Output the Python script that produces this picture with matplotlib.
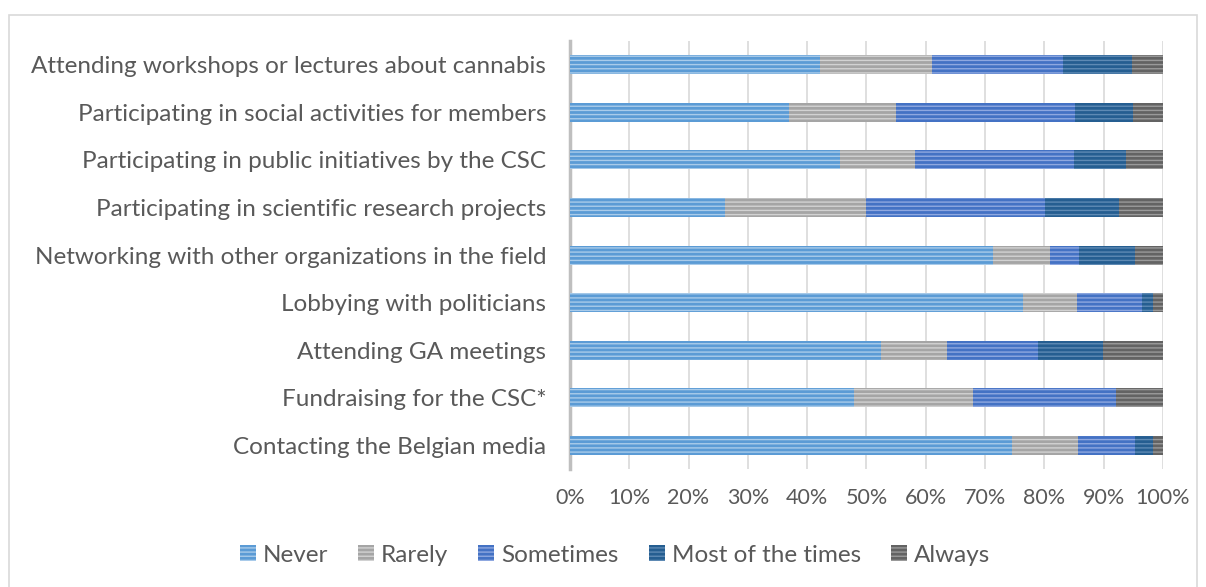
import numpy as np
import matplotlib.pyplot as plt
from matplotlib.patches import Rectangle

# activities, listed top to bottom as in the chart
activities = [
    'Attending workshops or lectures about cannabis',
    'Participating in social activities for members',
    'Participating in public initiatives by the CSC',
    'Participating in scientific research projects',
    'Networking with other organizations in the field',
    'Lobbying with politicians',
    'Attending GA meetings',
    'Fundraising for the CSC*',
    'Contacting the Belgian media',
]

# shares (%) per answer
never     = [42.1, 36.9, 45.5, 26.1, 71.4, 76.4, 52.5, 47.9, 74.6]
rarely    = [18.9, 18.1, 12.7, 23.9,  9.6,  9.1, 11.1, 20.0, 11.1]
sometimes = [22.2, 30.2, 26.8, 30.1,  4.8, 11.0, 15.3, 24.1,  9.6]
most      = [11.6,  9.8,  8.8, 12.5,  9.5,  1.8, 11.0,  0.0,  3.1]
always    = [ 5.2,  5.0,  6.2,  7.4,  4.7,  1.7, 10.1,  8.0,  1.6]

answers = ['Never', 'Rarely', 'Sometimes', 'Most of the times', 'Always']
series = [never, rarely, sometimes, most, always]
colors = ['#5B9BD5', '#A5A5A5', '#4472C4', '#255E91', '#636363']
stripes = ['#A9CBEA', '#D2D2D2', '#8FA8E0', '#5E8AB4', '#9A9A9A']

plt.rcParams['font.family'] = ['Lato', 'DejaVu Sans']
plt.rcParams['hatch.linewidth'] = 1.0
grey = '#595959'
fsize = 17.5

fig = plt.figure(figsize=(12.06, 5.87), dpi=100)
ax = fig.add_axes([0.4726, 0.201, 0.4917, 0.729])

# outer chart border
fig.patches.append(Rectangle((9/1206, -0.05), 1188/1206, 1.05 - 15/587,
                             transform=fig.transFigure, fill=False,
                             edgecolor='#D9D9D9', linewidth=1.2))

y = np.arange(len(activities))
left = np.zeros(len(activities))
for name, vals, c, s in zip(answers, series, colors, stripes):
    vals = np.array(vals)
    ax.barh(y, vals, left=left, height=0.4, color=c, edgecolor=s,
            hatch='----', linewidth=0, label=name, zorder=3)
    left = left + vals

ax.set_ylim(len(activities) - 0.5, -0.5)
ax.set_xlim(0, 100)
ax.set_xticks(np.arange(0, 101, 10))
ax.set_xticklabels([f'{v}%' for v in range(0, 101, 10)])
ax.set_yticks(y)
ax.set_yticklabels(activities)

ax.grid(axis='x', color='#D9D9D9', linewidth=1.2, zorder=0)
for sp in ['top', 'right', 'bottom']:
    ax.spines[sp].set_visible(False)
ax.spines['left'].set_color('#BFBFBF')
ax.spines['left'].set_linewidth(2.5)
ax.tick_params(axis='both', length=0, colors=grey)
ax.tick_params(axis='y', pad=17, labelsize=fsize)
ax.tick_params(axis='x', pad=14, labelsize=15.5)

leg = fig.legend(loc='center', bbox_to_anchor=(615/1206, 1 - 555/587), ncol=5,
                 frameon=False, handlelength=0.66, handleheight=0.66,
                 handletextpad=0.29, columnspacing=1.23,
                 prop={'size': fsize})
for t in leg.get_texts():
    t.set_color(grey)

plt.savefig('out.png', dpi=100)
